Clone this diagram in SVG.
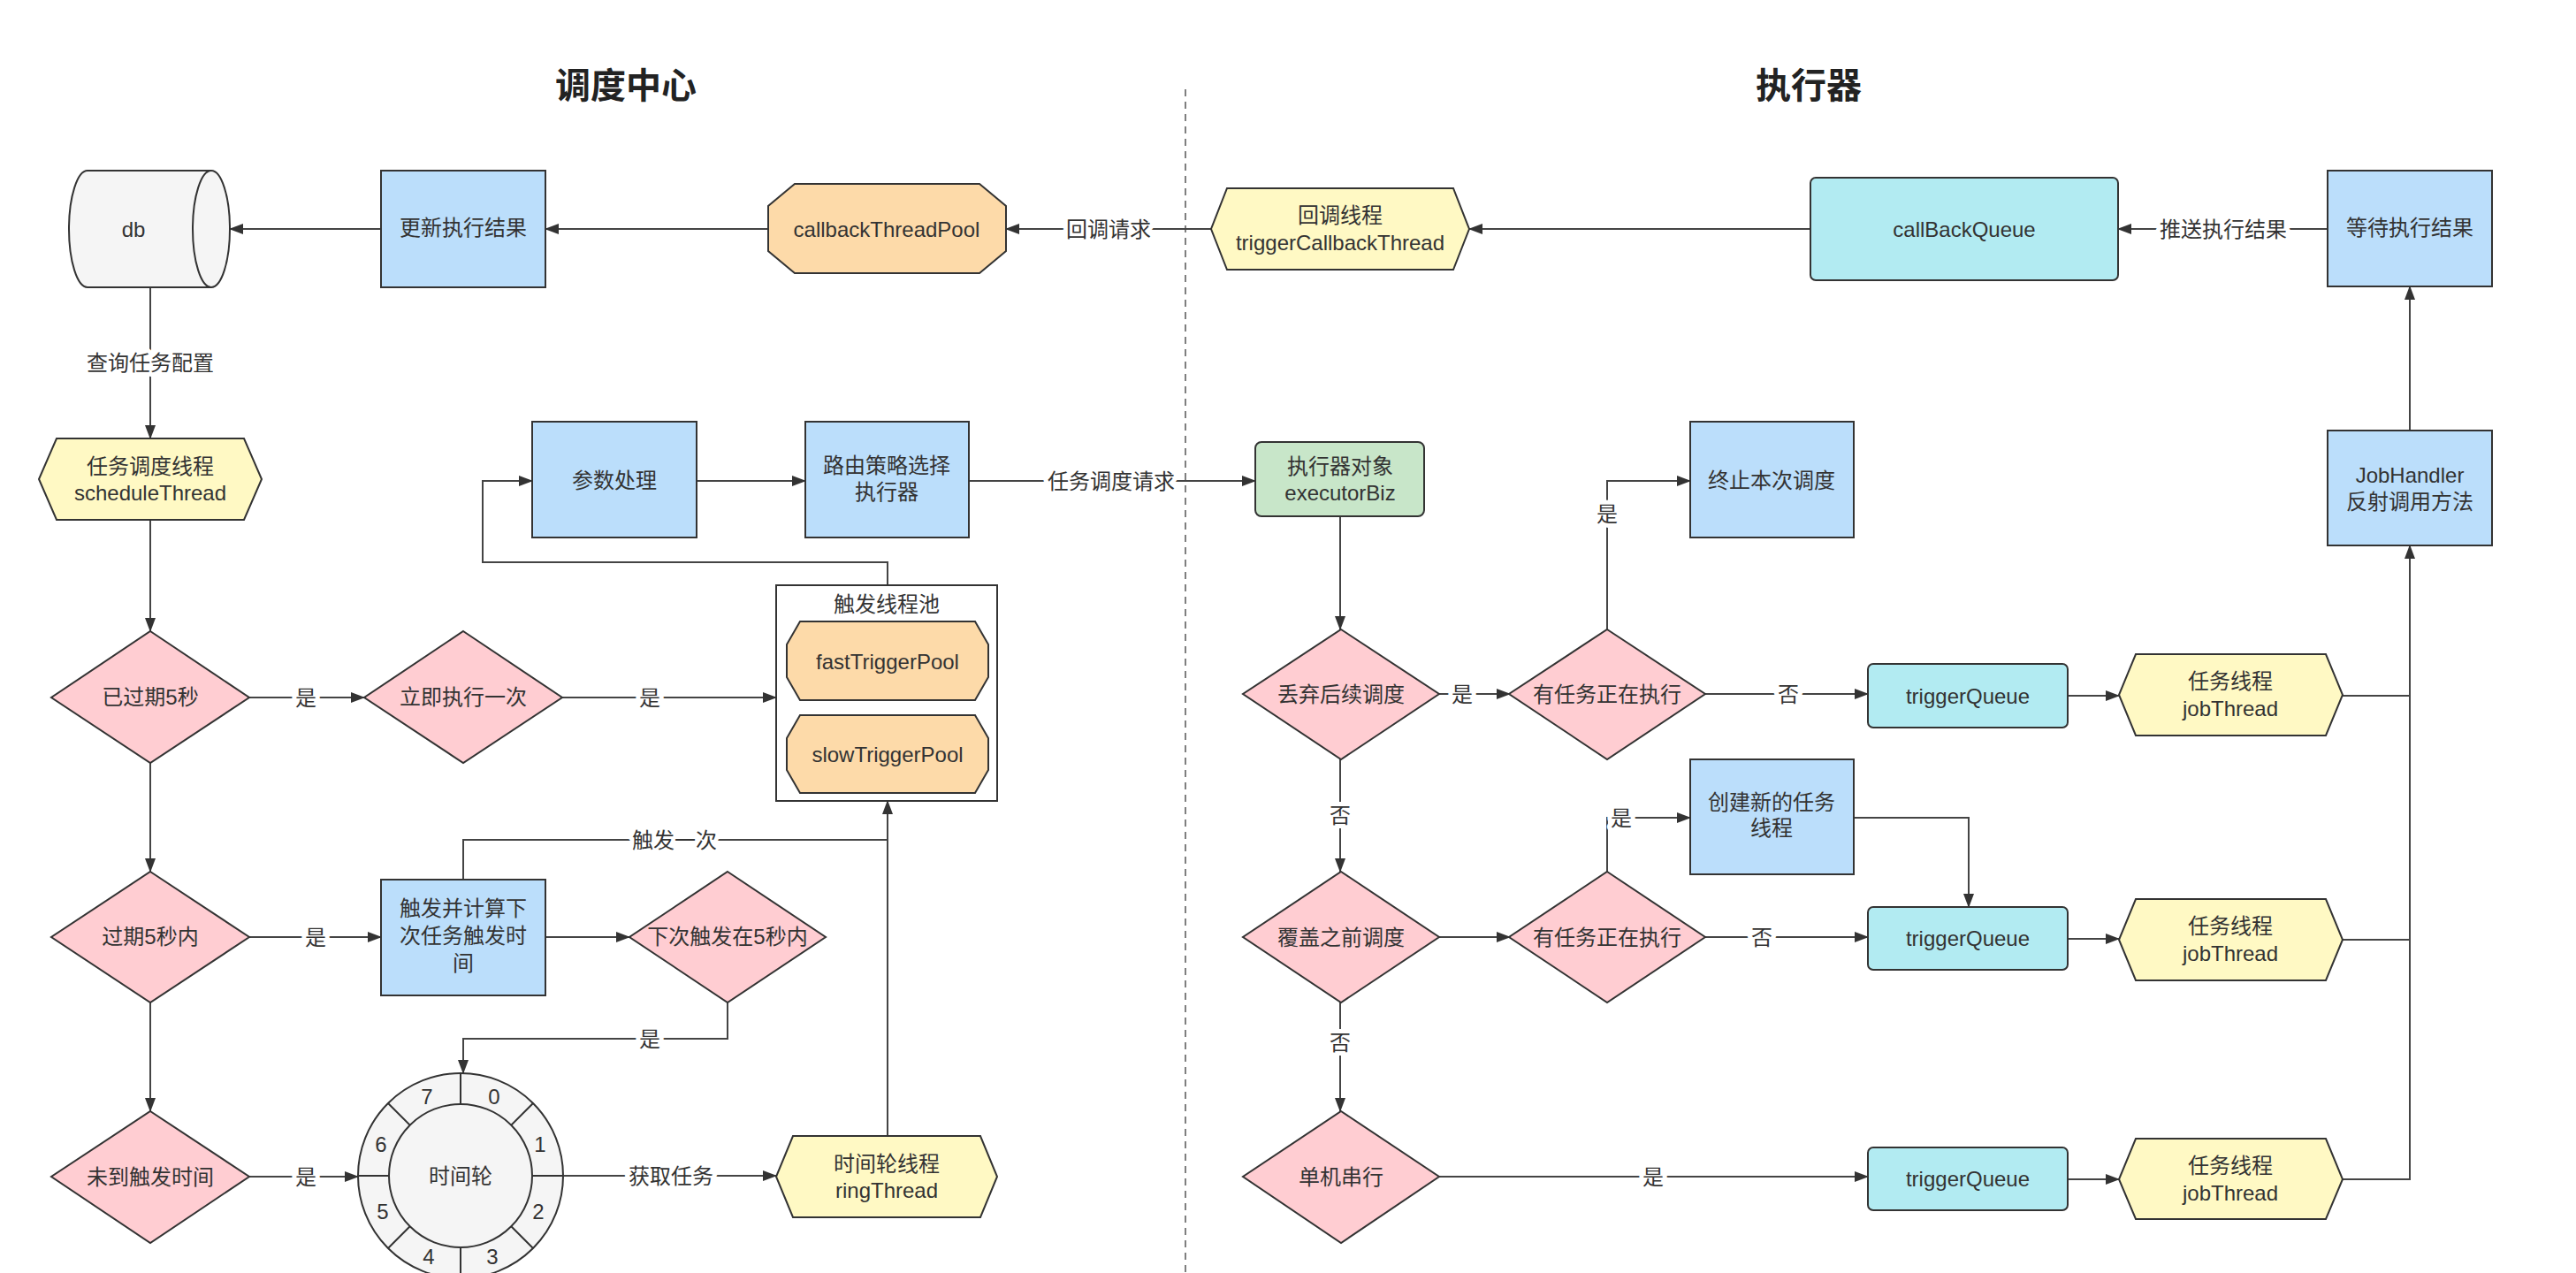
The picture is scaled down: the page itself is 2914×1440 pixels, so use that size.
<svg xmlns="http://www.w3.org/2000/svg" width="2914" height="1440" viewBox="0 0 2914 1440">
<style>
text{font-family:"Liberation Sans","Noto Sans CJK SC",sans-serif;font-size:24px;fill:#333;text-anchor:middle;dominant-baseline:central}
.title{font-size:40px;font-weight:bold;fill:#222}
.n{stroke:#333;stroke-width:2}
.blue{fill:#bbdefb}.pink{fill:#ffcdd2}.org{fill:#fddaa9}.yel{fill:#fff9c4}.cyan{fill:#b2ebf2}.grn{fill:#c8e6c9}.gry{fill:#f5f5f5}
.c{fill:none;stroke:#444;stroke-width:2}
.ca{fill:none;stroke:#444;stroke-width:2;marker-end:url(#a)}
.lbl{paint-order:stroke;stroke:#fff;stroke-width:10px;stroke-linejoin:round}
.div{stroke:#555;stroke-width:1.5;stroke-dasharray:8 6}
</style>
<defs>
<marker id="a" markerWidth="16" markerHeight="12" refX="15" refY="6" orient="auto" markerUnits="userSpaceOnUse"><path d="M0,0 L16,6 L0,12 Z" fill="#333"/></marker>
</defs>
<rect width="2914" height="1440" fill="#fff"/>
<line class="div" x1="1341" y1="101" x2="1341" y2="1440"/>
<text class="title" x="708" y="97">调度中心</text>
<text class="title" x="2046" y="97">执行器</text>

<g id="connectors">
<path class="ca" d="M2633,259 H2396"/>
<path class="ca" d="M2048,259 H1662"/>
<path class="ca" d="M1370,259 H1138"/>
<path class="ca" d="M869,259 H617"/>
<path class="ca" d="M431,259 H260"/>
<path class="ca" d="M170,325 V496"/>
<path class="ca" d="M170,588 V714"/>
<path class="ca" d="M282,789 H412"/>
<path class="ca" d="M636,789 H878"/>
<path class="ca" d="M170,863 V986"/>
<path class="ca" d="M170,1134 V1257"/>
<path class="ca" d="M282,1060 H431"/>
<path class="ca" d="M617,1060 H712"/>
<path class="c" d="M524,995 V950 H1004"/>
<path class="ca" d="M823,1134 V1175 H524 V1214"/>
<path class="ca" d="M282,1331 H405"/>
<path class="ca" d="M638,1330 H878"/>
<path class="ca" d="M1004,1285 V906"/>
<path class="ca" d="M1004,662 V636 H546 V544 H602"/>
<path class="ca" d="M788,544 H911"/>
<path class="ca" d="M1096,544 H1420"/>
<path class="ca" d="M1516,584 V712"/>
<path class="ca" d="M1628,785 H1708"/>
<path class="ca" d="M1818,712 V544 H1912"/>
<path class="ca" d="M1929,785 H2113"/>
<path class="ca" d="M2339,787 H2397"/>
<path class="c" d="M2650,787 H2726"/>
<path class="ca" d="M1516,859 V986"/>
<path class="ca" d="M1628,1060 H1708"/>
<path class="ca" d="M1818,986 V925 H1912"/>
<path class="ca" d="M1929,1060 H2113"/>
<path class="ca" d="M2097,925 H2227 V1026"/>
<path class="ca" d="M2339,1062 H2397"/>
<path class="c" d="M2650,1063 H2726"/>
<path class="ca" d="M1516,1134 V1257"/>
<path class="ca" d="M1628,1331 H2113"/>
<path class="ca" d="M2339,1334 H2397"/>
<path class="ca" d="M2650,1334 H2726 V617"/>
<path class="ca" d="M2726,487 V324"/>
<text class="lbl" x="2515" y="259">推送执行结果</text>
<text class="lbl" x="1254" y="259">回调请求</text>
<text class="lbl" x="170" y="410">查询任务配置</text>
<text class="lbl" x="346" y="789">是</text>
<text class="lbl" x="735" y="789">是</text>
<text class="lbl" x="357" y="1060">是</text>
<text class="lbl" x="763" y="950">触发一次</text>
<text class="lbl" x="735" y="1175">是</text>
<text class="lbl" x="346" y="1331">是</text>
<text class="lbl" x="759" y="1330">获取任务</text>
<text class="lbl" x="1257" y="544">任务调度请求</text>
<text class="lbl" x="1654" y="785">是</text>
<text class="lbl" x="1818" y="581">是</text>
<text class="lbl" x="2023" y="785">否</text>
<text class="lbl" x="1516" y="922">否</text>
<text class="lbl" x="1834" y="925">是</text>
<text class="lbl" x="1993" y="1060">否</text>
<text class="lbl" x="1516" y="1179">否</text>
<text class="lbl" x="1870" y="1331">是</text>
</g>

<g id="db">
<path class="n gry" d="M99,193 H239 A21,66 0 0 1 239,325 H99 A21,66 0 0 1 99,193 Z"/>
<path class="n" fill="none" d="M239,193 A21,66 0 0 0 239,325"/>
<text x="151" y="259">db</text>
</g>
<g id="update-result">
<rect class="n blue" x="431" y="193" width="186" height="132"/>
<text x="524" y="257">更新执行结果</text>
</g>
<g id="callbackThreadPool">
<path class="n org" d="M899,208 H1108 L1138,233 V284 L1108,309 H899 L869,284 V233 Z"/>
<text x="1003" y="259">callbackThreadPool</text>
</g>
<g id="triggerCallbackThread">
<path class="n yel" d="M1388,213 H1644 L1662,259 L1644,305 H1388 L1370,259 Z"/>
<text x="1516" y="243">回调线程</text>
<text x="1516" y="274">triggerCallbackThread</text>
</g>
<g id="callBackQueue">
<rect class="n cyan" x="2048" y="201" width="348" height="116" rx="6"/>
<text x="2222" y="259">callBackQueue</text>
</g>
<g id="wait-result">
<rect class="n blue" x="2633" y="193" width="186" height="131"/>
<text x="2726" y="257">等待执行结果</text>
</g>
<g id="scheduleThread">
<path class="n yel" d="M64,496 H276 L296,542 L276,588 H64 L44,542 Z"/>
<text x="170" y="527">任务调度线程</text>
<text x="170" y="557">scheduleThread</text>
</g>
<g id="param">
<rect class="n blue" x="602" y="477" width="186" height="131"/>
<text x="695" y="543">参数处理</text>
</g>
<g id="route">
<rect class="n blue" x="911" y="477" width="185" height="131"/>
<text x="1003" y="526">路由策略选择</text>
<text x="1003" y="556">执行器</text>
</g>
<g id="trigger-pool">
<rect class="n" fill="#fff" x="878" y="662" width="250" height="244"/>
<text x="1003" y="683">触发线程池</text>
<path class="n org" d="M905,703 H1103 L1118,729 V766 L1103,792 H905 L890,766 V729 Z"/>
<text x="1004" y="748">fastTriggerPool</text>
<path class="n org" d="M905,809 H1103 L1118,835 V871 L1103,897 H905 L890,871 V835 Z"/>
<text x="1004" y="853">slowTriggerPool</text>
</g>
<g id="expired5">
<path class="n pink" d="M170,714 L282,789 L170,863 L58,789 Z"/>
<text x="170" y="788">已过期5秒</text>
</g>
<g id="run-once">
<path class="n pink" d="M524,714 L636,789 L524,863 L412,789 Z"/>
<text x="524" y="788">立即执行一次</text>
</g>
<g id="within5">
<path class="n pink" d="M170,986 L282,1060 L170,1134 L58,1060 Z"/>
<text x="170" y="1059">过期5秒内</text>
</g>
<g id="trigger-calc">
<rect class="n blue" x="431" y="995" width="186" height="131"/>
<text x="524" y="1027">触发并计算下</text>
<text x="524" y="1058">次任务触发时</text>
<text x="524" y="1089">间</text>
</g>
<g id="next-within5">
<path class="n pink" d="M823,986 L934,1060 L823,1134 L712,1060 Z"/>
<text x="823" y="1059">下次触发在5秒内</text>
</g>
<g id="not-yet">
<path class="n pink" d="M170,1257 L282,1331 L170,1406 L58,1331 Z"/>
<text x="170" y="1331">未到触发时间</text>
</g>
<g id="time-wheel">
<circle class="n gry" cx="521" cy="1330" r="116"/>
<circle class="n gry" cx="521" cy="1330" r="81"/>
<path class="n" fill="none" d="M602,1330 H637 M578.3,1272.7 L603,1248 M521,1249 V1214 M463.7,1272.7 L439,1248 M440,1330 H405 M463.7,1387.3 L439,1412 M521,1411 V1446 M578.3,1387.3 L603,1412"/>
<text x="521" y="1330">时间轮</text>
<text x="559" y="1240">0</text>
<text x="611" y="1294">1</text>
<text x="609" y="1370">2</text>
<text x="557" y="1421">3</text>
<text x="485" y="1421">4</text>
<text x="433" y="1370">5</text>
<text x="431" y="1294">6</text>
<text x="483" y="1240">7</text>
</g>
<g id="ringThread">
<path class="n yel" d="M897,1285 H1109 L1128,1331 L1109,1377 H897 L878,1331 Z"/>
<text x="1003" y="1316">时间轮线程</text>
<text x="1003" y="1346">ringThread</text>
</g>
<g id="executorBiz">
<rect class="n grn" x="1420" y="500" width="191" height="84" rx="7"/>
<text x="1516" y="527">执行器对象</text>
<text x="1516" y="557">executorBiz</text>
</g>
<g id="stop">
<rect class="n blue" x="1912" y="477" width="185" height="131"/>
<text x="2004" y="543">终止本次调度</text>
</g>
<g id="discard">
<path class="n pink" d="M1517,712 L1628,785 L1517,859 L1406,785 Z"/>
<text x="1517" y="785">丢弃后续调度</text>
</g>
<g id="running1">
<path class="n pink" d="M1818,712 L1929,785 L1818,859 L1707,785 Z"/>
<text x="1818" y="785">有任务正在执行</text>
</g>
<g id="triggerQueue1">
<rect class="n cyan" x="2113" y="751" width="226" height="72" rx="6"/>
<text x="2226" y="787">triggerQueue</text>
</g>
<g id="jobThread1">
<path class="n yel" d="M2416,740 H2631 L2650,786 L2631,832 H2416 L2397,786 Z"/>
<text x="2523" y="770">任务线程</text>
<text x="2523" y="801">jobThread</text>
</g>
<g id="create-thread">
<rect class="n blue" x="1912" y="859" width="185" height="130"/>
<text x="2004" y="907">创建新的任务</text>
<text x="2004" y="936">线程</text>
</g>
<g id="cover">
<path class="n pink" d="M1517,986 L1628,1060 L1517,1134 L1406,1060 Z"/>
<text x="1517" y="1060">覆盖之前调度</text>
</g>
<g id="running2">
<path class="n pink" d="M1818,986 L1929,1060 L1818,1134 L1707,1060 Z"/>
<text x="1818" y="1060">有任务正在执行</text>
</g>
<g id="triggerQueue2">
<rect class="n cyan" x="2113" y="1026" width="226" height="71" rx="6"/>
<text x="2226" y="1061">triggerQueue</text>
</g>
<g id="jobThread2">
<path class="n yel" d="M2416,1017 H2631 L2650,1063 L2631,1109 H2416 L2397,1063 Z"/>
<text x="2523" y="1047">任务线程</text>
<text x="2523" y="1078">jobThread</text>
</g>
<g id="serial">
<path class="n pink" d="M1517,1257 L1628,1331 L1517,1406 L1406,1331 Z"/>
<text x="1517" y="1331">单机串行</text>
</g>
<g id="triggerQueue3">
<rect class="n cyan" x="2113" y="1298" width="226" height="71" rx="6"/>
<text x="2226" y="1333">triggerQueue</text>
</g>
<g id="jobThread3">
<path class="n yel" d="M2416,1288 H2631 L2650,1334 L2631,1379 H2416 L2397,1334 Z"/>
<text x="2523" y="1318">任务线程</text>
<text x="2523" y="1349">jobThread</text>
</g>
<g id="jobHandler">
<rect class="n blue" x="2633" y="487" width="186" height="130"/>
<text x="2726" y="537">JobHandler</text>
<text x="2726" y="567">反射调用方法</text>
</g>
</svg>
